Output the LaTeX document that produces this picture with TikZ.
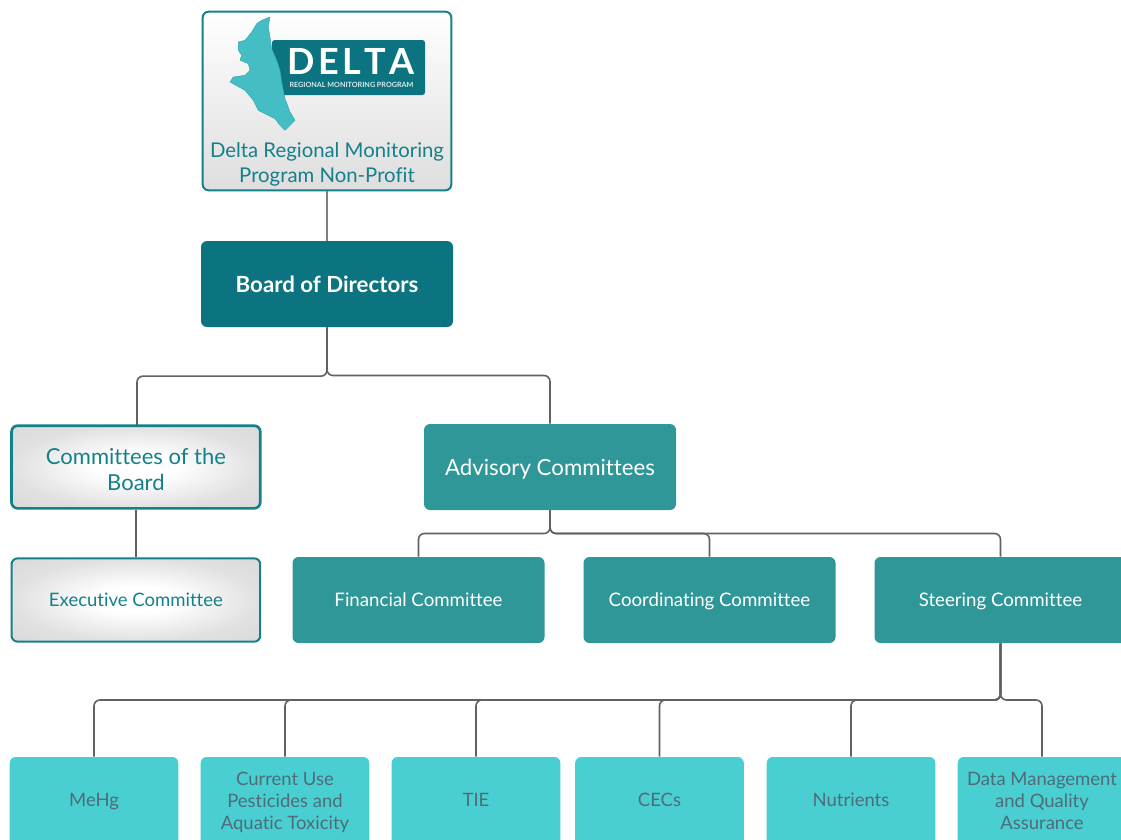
\documentclass[tikz,border=0pt]{standalone}
\usepackage{fontspec}
\setmainfont{Lato}[Ligatures=NoCommon]
\usetikzlibrary{calc}
\definecolor{deepteal}{HTML}{0B7480}
\definecolor{midteal}{HTML}{2F9797}
\definecolor{lightteal}{HTML}{49CFD2}
\definecolor{edgeteal}{HTML}{14808A}
\definecolor{greytext}{HTML}{4E6C78}
\definecolor{mapteal}{HTML}{45BDC4}
\pgfdeclareradialshading{sheen}{\pgfpoint{0bp}{0bp}}{color(0bp)=(white); color(8bp)=(white); color(25bp)=(black!12); color(50bp)=(black!18)}
\begin{document}
\begin{tikzpicture}[x=0.75pt, y=-0.75pt, line join=round]
  \tikzstyle{box}=[rectangle,rounded corners=4.5pt,minimum width=189pt,minimum height=64.5pt,inner sep=0pt,align=center]
  \tikzstyle{dark_box}=[box,fill=deepteal,text=white,text height=12pt,text depth=0pt,font=\fontsize{16.7}{20}\selectfont\bfseries]
  \tikzstyle{mid_box}=[box,fill=midteal,text=white,text height=10pt,text depth=0pt,font=\fontsize{14}{16}\selectfont]
  \tikzstyle{light_box}=[box,minimum width=126.5pt,minimum height=68.25pt,fill=lightteal,text=greytext,font=\fontsize{13.85}{16.5}\selectfont]
  \tikzstyle{light_single}=[light_box,text height=10pt,text depth=4pt]
  \tikzstyle{grey_box}=[box,draw=edgeteal,minimum width=186.5pt,shading=sheen,text=edgeteal]
  \tikzstyle{tree}=[draw=black!62,line width=1.2pt,rounded corners=4.5pt,
    to path={(\tikztostart) |- ($(\tikztostart)!0.5!(\tikztotarget)$) -| (\tikztotarget)}]
  \tikzstyle{link}=[draw=black!62,line width=1.3pt]
  \useasboundingbox (0,0) rectangle (1121,839);

  \node[box,draw=edgeteal,line width=1.5pt,minimum width=186.5pt,minimum height=134pt,top color=white,bottom color=black!13] (nonprofit) at (327,101) {};
  \fill[deepteal,rounded corners=2pt] (272,40) rectangle (425,95);
  \fill[mapteal,draw=deepteal!35!mapteal,line width=0.3pt] (256.7,23.7) -- (261.7,20.3) -- (270,17) -- (268.3,27) -- (270,37) -- (271.7,48.7)
    -- (276.7,60.3) -- (280,70.3) -- (281.7,82) -- (285,98.7) -- (290,112) -- (295,120.3) -- (288.3,127) -- (285,130.3) -- (280,125.3)
    -- (275,118.7) -- (258.3,110.3) -- (253.3,100.3) -- (245,90.3) -- (230,82) -- (233.3,77) -- (245,75.3) -- (250,70.3) -- (248.3,63.7)
    -- (240,60.3) -- (241.7,55.3) -- (238.3,50.3) -- (238.3,42) -- (245,40.3) -- (251.7,32) -- cycle;
  \node[text=white,font=\fontsize{27}{27}\selectfont\bfseries] (delta) at (351,61) {D\kern2.5pt E\kern2.5pt L\kern2.5pt T\kern2.5pt A};
  \node[text=white!85!deepteal,font=\fontsize{5.4}{6}\selectfont\bfseries] (regional) at (351.5,84.5) {REGIONAL MONITORING PROGRAM};
  \node[text=edgeteal,align=center,font=\fontsize{15.25}{18.75}\selectfont] (nonprofit_label) at (327,164.5) {Delta Regional Monitoring\\Program Non-Profit};

  \node[dark_box] (board) at (327,284) {Board of Directors};

  \node[grey_box,line width=2pt,minimum height=62pt,font=\fontsize{16.5}{19.5}\selectfont] (committees) at (135.9,467) {\rule{0pt}{16pt}Committees of the\\Board};
  \coordinate (committees_top) at (137,425);
  \node[mid_box,text height=12pt,font=\fontsize{16.7}{20}\selectfont] (advisory) at (550,467) {Advisory Committees};

  \node[grey_box,line width=1.5pt,minimum height=62.5pt,text height=10pt,text depth=0pt,font=\fontsize{13.9}{16}\selectfont] (executive) at (135.9,600) {Executive Committee};
  \node[mid_box] (financial) at (418.5,600) {Financial Committee};
  \node[mid_box] (coordinating) at (709.5,600) {Coordinating Committee};
  \node[mid_box] (steering) at (1000.5,600) {Steering Committee};

  \node[light_single] (mehg) at (94,802.5) {MeHg};
  \node[light_box] (pesticides) at (285,802.5) {Current Use\\Pesticides and\\Aquatic Toxicity};
  \node[light_single] (tie) at (476,802.5) {TIE};
  \node[light_single] (cecs) at (659.5,802.5) {CECs};
  \node[light_single] (nutrients) at (851,802.5) {Nutrients};
  \node[light_box] (data) at (1042,802.5) {Data Management\\and Quality\\\rule[-3pt]{0pt}{3pt}Assurance};

  \path (nonprofit) edge [link,draw=black!50] (board)
        (committees) edge [link] (executive);
  \path (board.south) edge [tree] (committees_top)
        (board.south) edge [tree] (advisory.north);
  \path (advisory.south) edge [tree] (financial.north)
        (advisory.south) edge [tree] (coordinating.north)
        (advisory.south) edge [tree] (steering.north);
  \path (steering.south) edge [tree] (mehg.north)
        (steering.south) edge [tree] (pesticides.north)
        (steering.south) edge [tree] (tie.north)
        (steering.south) edge [tree] (cecs.north)
        (steering.south) edge [tree] (nutrients.north)
        (steering.south) edge [tree] (data.north);
\end{tikzpicture}
\end{document}
